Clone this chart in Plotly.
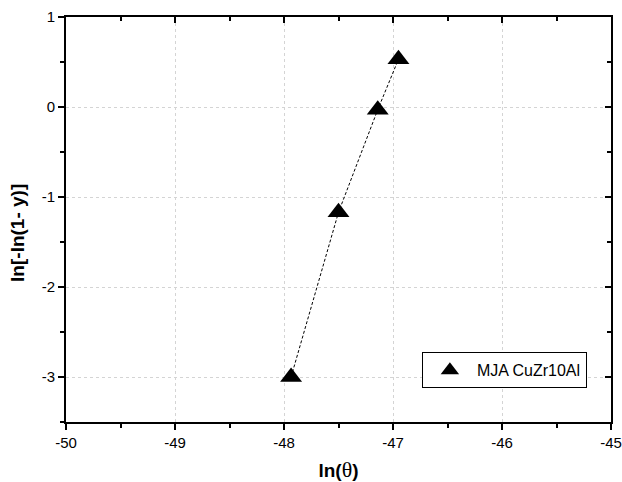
import plotly.graph_objects as go

x_vals = [-47.935, -47.50, -47.14, -46.95]
y_vals = [-3.00, -1.17, -0.03, 0.53]
series_name = "MJA CuZr10Al"
x_ticks = [-50, -49, -48, -47, -46, -45]
x_ticktext = ["-50", "-49", "-48", "-47", "-46", "-45"]
y_ticks = [-3, -2, -1, 0, 1]
y_ticktext = ["-3", "-2", "-1", "0", "1"]
x_range = [-50, -45]
y_range = [-3.5, 1]
y_title = "<b>ln[-ln(1- y)]</b>"

FONT = "Liberation Sans, Arial, sans-serif"

fig = go.Figure()
fig.add_trace(go.Scatter(
    x=x_vals, y=y_vals, mode="lines", showlegend=False,
    line=dict(color="black", width=1, dash="3px,2px"),
))
fig.add_trace(go.Scatter(
    x=x_vals, y=y_vals, mode="markers", name=series_name,
    marker=dict(symbol="triangle-up", size=19, color="black"),
))
# invisible trace to bind the mirror (top/right) axes
fig.add_trace(go.Scatter(x=[x_range[0]], y=[y_range[0]], xaxis="x2", yaxis="y2",
                         mode="markers", marker=dict(opacity=0), showlegend=False,
                         hoverinfo="skip"))

common = dict(showline=True, linecolor="black", linewidth=2, zeroline=False,
              automargin=False)

fig.update_layout(
    width=622, height=482,
    margin=dict(l=66, r=11, t=17, b=60),
    paper_bgcolor="white", plot_bgcolor="white",
    font=dict(family=FONT, color="black", size=15),
    showlegend=True,
    legend=dict(x=0.653, y=0.172, xanchor="left", yanchor="top",
                bordercolor="black", borderwidth=1, bgcolor="white",
                font=dict(size=16, family=FONT),
                itemwidth=44, tracegroupgap=0),
    xaxis=dict(range=x_range, tickvals=x_ticks, ticktext=x_ticktext,
               ticks="outside", ticklen=6, ticklabeloverflow="allow",
               tickwidth=2, tickcolor="black",
               showgrid=True, gridcolor="#d4d4d4", griddash="dot", gridwidth=1,
               minor=dict(dtick=0.5, tick0=-50, ticks="outside", ticklen=4,
                          tickwidth=2, tickcolor="black", showgrid=False),
               title=dict(text="<b>ln(</b><span style=\"font-family:'Liberation Serif';font-weight:normal;font-size:22px\">θ</span><b>)</b>",
                          font=dict(size=19), standoff=18),
               tickfont=dict(size=15),
               **common),
    yaxis=dict(range=y_range, tickvals=y_ticks, ticktext=y_ticktext,
               ticks="outside", ticklen=6, ticklabeloverflow="allow",
               tickwidth=2, tickcolor="black",
               showgrid=True, gridcolor="#d4d4d4", griddash="dot", gridwidth=1,
               minor=dict(dtick=0.5, tick0=-3.5, ticks="outside", ticklen=4,
                          tickwidth=2, tickcolor="black", showgrid=False),
               tickfont=dict(size=15),
               **common),
    xaxis2=dict(range=x_range, overlaying="x", side="top", anchor="y",
                tickvals=x_ticks, ticks="inside", ticklen=6, tickwidth=2,
                tickcolor="black", showticklabels=False, showgrid=False,
                minor=dict(dtick=0.5, tick0=-50, ticks="inside", ticklen=4,
                           tickwidth=2, tickcolor="black", showgrid=False),
                **common),
    yaxis2=dict(range=y_range, overlaying="y", side="right", anchor="x",
                tickvals=y_ticks, ticks="inside", ticklen=6, tickwidth=2,
                tickcolor="black", showticklabels=False, showgrid=False,
                minor=dict(dtick=0.5, tick0=-3.5, ticks="inside", ticklen=4,
                           tickwidth=2, tickcolor="black", showgrid=False),
                **common),
    annotations=[dict(text=y_title, textangle=-90, showarrow=False,
                      xref="paper", yref="paper", x=-0.088, y=0.467,
                      xanchor="center", yanchor="middle",
                      font=dict(size=19, family=FONT))],
)

fig.write_html("out.html")
